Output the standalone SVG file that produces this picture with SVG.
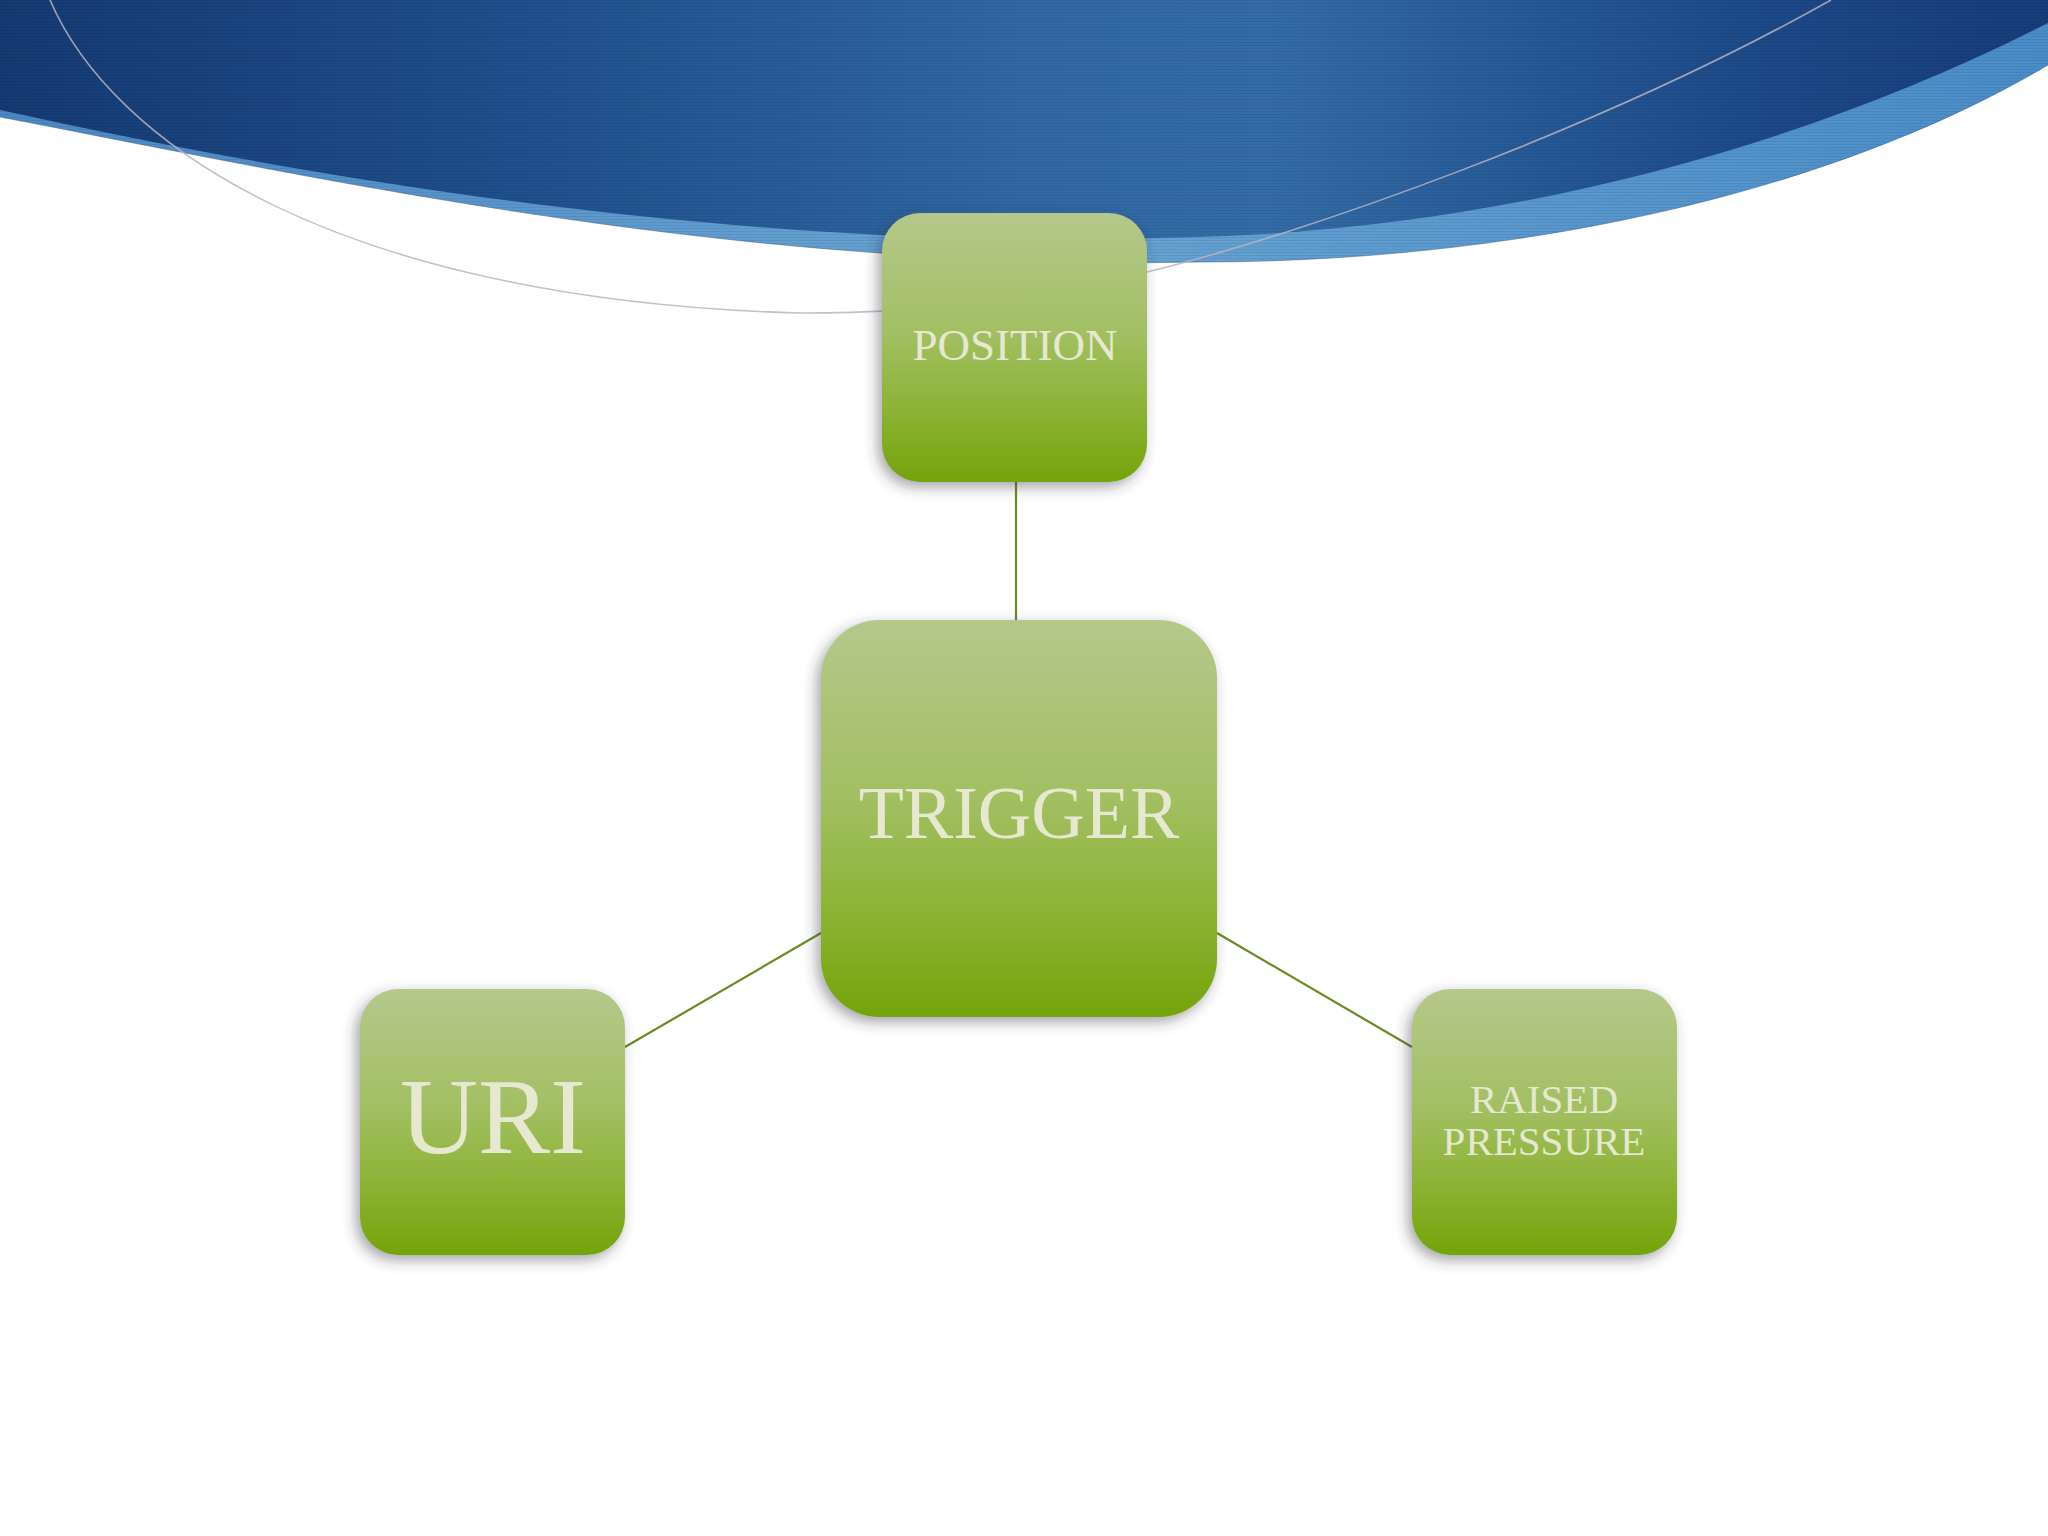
<svg xmlns="http://www.w3.org/2000/svg" width="2048" height="1536" viewBox="0 0 2048 1536">
  <defs>
    <linearGradient id="blueDark" x1="0" y1="0" x2="2048" y2="0" gradientUnits="userSpaceOnUse">
      <stop offset="0" stop-color="#153a73"/>
      <stop offset="0.25" stop-color="#1f4f8c"/>
      <stop offset="0.5" stop-color="#3068a3"/>
      <stop offset="0.62" stop-color="#336ca7"/>
      <stop offset="0.85" stop-color="#1d4a89"/>
      <stop offset="1" stop-color="#173d7a"/>
    </linearGradient>
    <linearGradient id="blueLight" x1="0" y1="0" x2="2048" y2="0" gradientUnits="userSpaceOnUse">
      <stop offset="0" stop-color="#4b87c2"/>
      <stop offset="0.5" stop-color="#68a4d3"/>
      <stop offset="1" stop-color="#4a8cc8"/>
    </linearGradient>
    <pattern id="stripes" width="8" height="3" patternUnits="userSpaceOnUse">
      <rect x="0" y="0" width="8" height="1" fill="#000000" opacity="0.07"/>
    </pattern>
    <linearGradient id="green" x1="0" y1="0" x2="0" y2="1">
      <stop offset="0" stop-color="#b5c88c"/>
      <stop offset="0.45" stop-color="#a2bf62"/>
      <stop offset="0.75" stop-color="#8bb232"/>
      <stop offset="1" stop-color="#74a30a"/>
    </linearGradient>
    <filter id="shadow" x="-20%" y="-20%" width="140%" height="140%">
      <feDropShadow dx="-4" dy="5" stdDeviation="7" flood-color="#303040" flood-opacity="0.45"/>
    </filter>
  </defs>
  <style>
    .box { fill: url(#green); filter: url(#shadow); }
    .label { font-family: "Liberation Serif", "Times New Roman", serif; fill: #e6e8cf; text-anchor: middle; }
    .conn { stroke: #6b8a22; stroke-width: 2.2; fill: none; }
  </style>

  <rect x="0" y="0" width="2048" height="1536" fill="#ffffff"/>

  <g id="header">
    <path d="M0,0 H2048 V65 C1820,200 1500,262 1200,262 C1100,264 1000,262 880,253 C550,230 250,165 0,117 Z" fill="url(#blueLight)"/>
    <path d="M0,0 H2048 V23 C1800,150 1500,228 1200,237 C1100,240 1000,240 880,235 C550,218 250,165 0,110 Z" fill="url(#blueDark)"/>
    <path d="M0,0 H2048 V65 C1820,200 1500,262 1200,262 C1100,264 1000,262 880,253 C550,230 250,165 0,117 Z" fill="url(#stripes)"/>
    <path d="M2048,65 C1820,200 1500,262 1200,262 C1100,264 1000,262 880,253 C550,230 250,165 0,117" fill="none" stroke="#3a5f8a" stroke-width="1" opacity="0.5"/>
    <path d="M50,0 C110,140 330,300 800,313 C950,313 1050,295 1147,272 C1300,235 1600,130 1831,0" fill="none" stroke="#b8b4c4" stroke-width="1.6" opacity="0.85"/>
  </g>

  <g id="connectors">
    <line class="conn" x1="1016" y1="482" x2="1016" y2="620"/>
    <line class="conn" x1="625" y1="1047" x2="821" y2="933"/>
    <line class="conn" x1="1217" y1="933" x2="1412" y2="1047"/>
  </g>

  <g id="node-position">
    <rect class="box" x="882" y="213" width="265" height="269" rx="38" ry="38"/>
    <text class="label" x="1015" y="360" font-size="45">POSITION</text>
  </g>

  <g id="node-trigger">
    <rect class="box" x="821" y="620" width="396" height="397" rx="58" ry="58"/>
    <text class="label" x="1019" y="838" font-size="74">TRIGGER</text>
  </g>

  <g id="node-uri">
    <rect class="box" x="360" y="989" width="265" height="266" rx="38" ry="38"/>
    <text class="label" x="493" y="1153" font-size="108">URI</text>
  </g>

  <g id="node-raised-pressure">
    <rect class="box" x="1412" y="989" width="265" height="266" rx="38" ry="38"/>
    <text class="label" x="1544" y="1113" font-size="41">RAISED</text>
    <text class="label" x="1544" y="1155" font-size="41">PRESSURE</text>
  </g>
</svg>
